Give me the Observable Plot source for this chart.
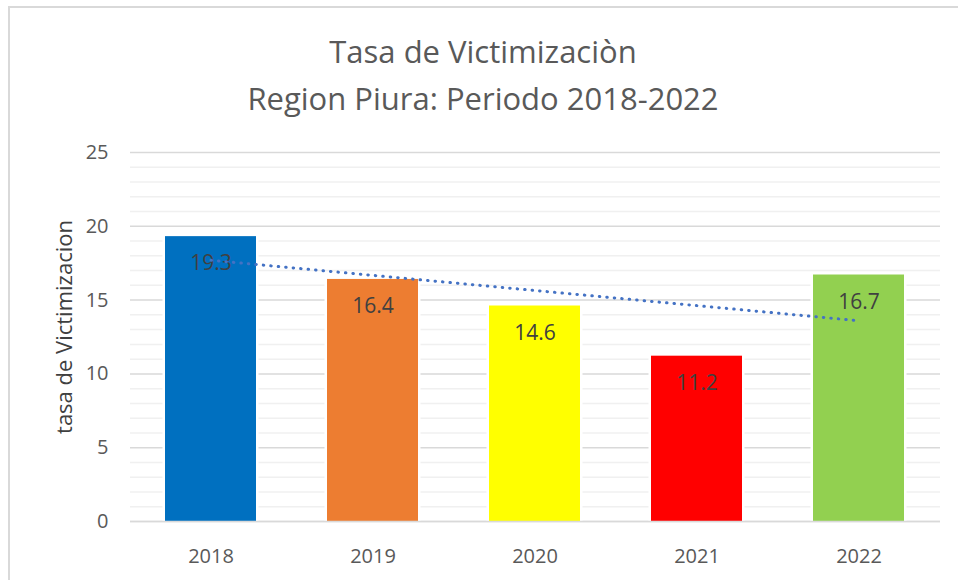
<!DOCTYPE html>
<html>
<head>
<meta charset="utf-8">
<script src="https://cdn.jsdelivr.net/npm/d3@7"></script>
<script src="https://cdn.jsdelivr.net/npm/@observablehq/plot@0.6"></script>
<style>
  html, body { margin: 0; padding: 0; background: #fff; }
  #wrap { position: relative; width: 958px; height: 580px; overflow: hidden; background: #fff; font-family: "Open Sans", sans-serif; }
  #frame { position: absolute; left: 8px; top: 6px; right: -10px; bottom: -10px; border-top: 2px solid #d9d9d9; border-left: 2px solid #d9d9d9; pointer-events: none; }
  #title { height: 130px; box-sizing: border-box; padding-top: 28px; text-align: center; color: #595959; font-size: 31px; line-height: 47px; padding-left: 8px; }
</style>
</head>
<body>
<div id="wrap">
  <div id="frame"></div>
  <div id="title"><div>Tasa de Victimizaciòn</div><div>Region Piura: Periodo 2018-2022</div></div>
  <div id="chart"></div>
</div>
<script>
const years = ["2018", "2019", "2020", "2021", "2022"];
const values = [19.3, 16.4, 14.6, 11.2, 16.7];
const barColors = ["#0070C0", "#ED7D31", "#FFFF00", "#FF0000", "#92D050"];
const valueLabels = ["19.3", "16.4", "14.6", "11.2", "16.7"];
const trendYears = ["2018", "2022"];
const trendValues = [17.7, 13.6];
const majorTicks = [0, 5, 10, 15, 20, 25];
const minorTicks = [1,2,3,4,6,7,8,9,11,12,13,14,16,17,18,19,21,22,23,24];
const yLabel = "tasa de Victimizacion";

const bars = years.map((y, i) => ({year: y, value: values[i], color: barColors[i], label: valueLabels[i]}));
const trend = trendYears.map((y, i) => ({year: y, value: trendValues[i]}));

const chart = Plot.plot({
  width: 958,
  height: 450,
  marginTop: 22,
  marginBottom: 59,
  marginLeft: 130,
  marginRight: 18,
  style: { fontFamily: "'Open Sans', sans-serif", background: "transparent", overflow: "visible" },
  x: { domain: years, paddingInner: 0.438, paddingOuter: 0.219, label: null },
  y: { domain: [0, 25], label: null },
  marks: [
    Plot.ruleY(minorTicks, { stroke: "#f0f0f0", strokeWidth: 1.5 }),
    Plot.ruleY(majorTicks, { stroke: "#d9d9d9", strokeWidth: 1.5 }),
    Plot.barY(bars, { x: "year", y: "value", fill: "#ffffff", insetLeft: -2.5, insetRight: -2.5 }),
    Plot.barY(bars, { x: "year", y: "value", fill: "color" }),
    Plot.ruleY([0], { stroke: "#d9d9d9", strokeWidth: 1.5 }),
    Plot.text(bars, { x: "year", y: "value", text: "label", dy: 27, fill: "#404040", fontSize: 21 }),
    Plot.line(trend, { x: "year", y: "value", stroke: "#4472C4", strokeWidth: 3, strokeDasharray: "0.5,7", strokeLinecap: "round" }),
    Plot.axisX({ tickSize: 0, tickPadding: 27, fontSize: 20, color: "#595959", label: null }),
    Plot.axisY({ ticks: majorTicks, tickSize: 0, tickPadding: 22, fontSize: 20, color: "#595959",
      label: yLabel, labelAnchor: "center", labelArrow: "none", labelOffset: 74 })
  ]
});
chart.querySelectorAll("g[aria-label='y-axis label']").forEach(g => {
  g.setAttribute("font-size", 22);
  g.setAttribute("fill", "#404040");
  g.querySelectorAll("text").forEach(t => { t.setAttribute("font-size", 22); t.setAttribute("dx", 10); });
});
document.getElementById("chart").appendChild(chart);
</script>
</body>
</html>
